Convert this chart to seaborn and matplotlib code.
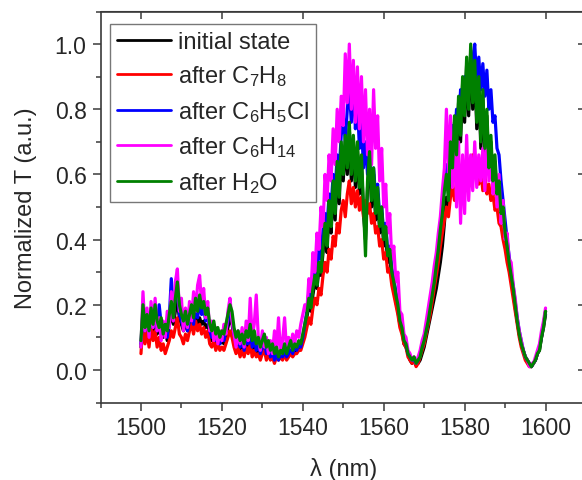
import numpy as np
import pandas as pd
import matplotlib
matplotlib.use("Agg")
import matplotlib.pyplot as plt
import seaborn as sns
from matplotlib.ticker import MultipleLocator

# ---------------- data ----------------
# sampling grid of the spectra: 1500 ... 1600 nm every 0.5 nm (201 samples)
wavelength_nm = np.arange(1500.0, 1600.25, 0.5)

t_initial = [
    0.07, 0.16, 0.11, 0.14, 0.10, 0.16, 0.12, 0.15, 0.11, 0.13,
    0.12, 0.10, 0.12, 0.09, 0.14, 0.17, 0.14, 0.18, 0.21, 0.16,
    0.14, 0.12, 0.15, 0.12, 0.14, 0.16, 0.13, 0.17, 0.14, 0.16,
    0.14, 0.15, 0.13, 0.14, 0.11, 0.09, 0.12, 0.08, 0.10, 0.08,
    0.09, 0.08, 0.11, 0.13, 0.16, 0.14, 0.10, 0.07, 0.09, 0.06,
    0.08, 0.06, 0.09, 0.07, 0.10, 0.06, 0.08, 0.05, 0.07, 0.05,
    0.06, 0.08, 0.05, 0.06, 0.04, 0.05, 0.03, 0.05, 0.04, 0.05,
    0.04, 0.06, 0.04, 0.05, 0.06, 0.05, 0.06, 0.06, 0.07, 0.07,
    0.09,
    0.13, 0.16, 0.20, 0.18, 0.23, 0.27, 0.25, 0.31, 0.29, 0.36,
    0.43, 0.36, 0.50, 0.42, 0.56, 0.46, 0.62, 0.51, 0.68, 0.58,
    0.70, 0.60, 0.74, 0.58, 0.70, 0.56, 0.68, 0.54, 0.64, 0.48,
    0.40, 0.56, 0.65, 0.50, 0.60, 0.46, 0.54, 0.42, 0.48, 0.38,
    0.41, 0.33, 0.35, 0.28, 0.25, 0.21, 0.18, 0.14, 0.12, 0.08,
    0.07, 0.05, 0.03, 0.02, 0.03, 0.02, 0.02, 0.03, 0.05, 0.07,
    0.10, 0.13, 0.16, 0.19, 0.22, 0.25, 0.29, 0.33, 0.38, 0.45,
    0.53, 0.50, 0.64, 0.60, 0.76, 0.64, 0.82, 0.70, 0.88, 0.76,
    0.94, 0.78, 0.98, 0.80, 0.93, 0.74, 0.88, 0.68, 0.84, 0.66,
    0.78, 0.60, 0.70, 0.56, 0.64, 0.52, 0.56, 0.46, 0.48, 0.40,
    0.37, 0.32, 0.28, 0.24, 0.19, 0.15, 0.11, 0.08, 0.06, 0.04,
    0.03, 0.02, 0.01, 0.02, 0.03, 0.05, 0.06, 0.10, 0.13, 0.17,
]

t_c7h8 = [
    0.05, 0.14, 0.08, 0.12, 0.07, 0.13, 0.09, 0.12, 0.07, 0.10,
    0.06, 0.08, 0.05, 0.07, 0.09, 0.12, 0.10, 0.13, 0.16, 0.11,
    0.10, 0.08, 0.11, 0.09, 0.12, 0.14, 0.11, 0.15, 0.12, 0.14,
    0.11, 0.13, 0.10, 0.12, 0.08, 0.07, 0.09, 0.06, 0.08, 0.06,
    0.07, 0.06, 0.08, 0.10, 0.12, 0.10, 0.07, 0.05, 0.07, 0.04,
    0.06, 0.04, 0.07, 0.05, 0.08, 0.04, 0.06, 0.04, 0.05, 0.03,
    0.05, 0.06, 0.03, 0.05, 0.03, 0.04, 0.02, 0.04, 0.03, 0.04,
    0.03, 0.05, 0.03, 0.04, 0.05, 0.04, 0.05, 0.05, 0.06, 0.06,
    0.08,
    0.10, 0.13, 0.16, 0.14, 0.19, 0.22, 0.20, 0.25, 0.23, 0.29,
    0.33, 0.30, 0.37, 0.34, 0.41, 0.38, 0.45, 0.42, 0.49, 0.52,
    0.47, 0.54, 0.58, 0.51, 0.56, 0.50, 0.55, 0.49, 0.53, 0.47,
    0.52, 0.48, 0.51, 0.45, 0.48, 0.42, 0.44, 0.38, 0.40, 0.34,
    0.36, 0.30, 0.31, 0.26, 0.23, 0.20, 0.17, 0.13, 0.11, 0.08,
    0.07, 0.04, 0.03, 0.02, 0.03, 0.01, 0.02, 0.04, 0.06, 0.08,
    0.11, 0.14, 0.17, 0.21, 0.25, 0.29, 0.33, 0.38, 0.42, 0.46,
    0.50, 0.47, 0.53, 0.56, 0.52, 0.58, 0.55, 0.61, 0.57, 0.63,
    0.59, 0.64, 0.60, 0.66, 0.61, 0.63, 0.57, 0.61, 0.55, 0.60,
    0.54, 0.57, 0.52, 0.54, 0.49, 0.50, 0.45, 0.44, 0.40, 0.37,
    0.33, 0.30, 0.26, 0.22, 0.18, 0.14, 0.10, 0.07, 0.05, 0.03,
    0.02, 0.01, 0.01, 0.02, 0.03, 0.05, 0.07, 0.10, 0.14, 0.18,
]

t_c6h5cl = [
    0.08, 0.18, 0.12, 0.16, 0.11, 0.18, 0.13, 0.17, 0.12, 0.20,
    0.14, 0.11, 0.13, 0.10, 0.16, 0.28, 0.18, 0.22, 0.25, 0.17,
    0.15, 0.13, 0.16, 0.12, 0.15, 0.18, 0.14, 0.20, 0.16, 0.21,
    0.17, 0.19, 0.15, 0.17, 0.12, 0.10, 0.13, 0.09, 0.11, 0.08,
    0.10, 0.09, 0.12, 0.15, 0.18, 0.16, 0.11, 0.08, 0.10, 0.07,
    0.09, 0.06, 0.10, 0.08, 0.12, 0.07, 0.10, 0.06, 0.08, 0.05,
    0.07, 0.09, 0.05, 0.07, 0.04, 0.06, 0.03, 0.05, 0.03, 0.05,
    0.04, 0.06, 0.04, 0.05, 0.07, 0.05, 0.07, 0.06, 0.08, 0.07,
    0.10,
    0.14, 0.18, 0.24, 0.21, 0.28, 0.32, 0.29, 0.37, 0.34, 0.43,
    0.48, 0.44, 0.54, 0.50, 0.60, 0.55, 0.66, 0.61, 0.72, 0.78,
    0.70, 0.80, 0.86, 0.76, 0.90, 0.74, 0.82, 0.68, 0.76, 0.62,
    0.70, 0.60, 0.64, 0.56, 0.62, 0.53, 0.57, 0.47, 0.50, 0.42,
    0.45, 0.36, 0.38, 0.31, 0.28, 0.24, 0.21, 0.16, 0.14, 0.10,
    0.08, 0.05, 0.04, 0.03, 0.03, 0.02, 0.03, 0.05, 0.07, 0.10,
    0.12, 0.16, 0.20, 0.24, 0.28, 0.33, 0.38, 0.44, 0.50, 0.56,
    0.63, 0.60, 0.70, 0.75, 0.70, 0.80, 0.74, 0.86, 0.80, 0.90,
    0.84, 0.93, 0.88, 0.95, 1.00, 0.88, 0.96, 0.86, 0.94, 0.84,
    0.92, 0.80, 0.86, 0.76, 0.78, 0.68, 0.66, 0.58, 0.52, 0.46,
    0.40, 0.35, 0.30, 0.26, 0.21, 0.16, 0.12, 0.09, 0.06, 0.04,
    0.03, 0.02, 0.01, 0.02, 0.03, 0.05, 0.07, 0.10, 0.14, 0.18,
]

t_c6h14 = [
    0.07, 0.24, 0.12, 0.19, 0.10, 0.21, 0.13, 0.22, 0.12, 0.16,
    0.09, 0.15, 0.10, 0.18, 0.13, 0.24, 0.15, 0.27, 0.31, 0.18,
    0.22, 0.12, 0.19, 0.13, 0.21, 0.15, 0.24, 0.18, 0.26, 0.29,
    0.20, 0.25, 0.16, 0.21, 0.12, 0.15, 0.09, 0.13, 0.08, 0.12,
    0.09, 0.14, 0.11, 0.18, 0.22, 0.15, 0.11, 0.07, 0.12, 0.08,
    0.13, 0.07, 0.15, 0.09, 0.22, 0.10, 0.14, 0.23, 0.10, 0.06,
    0.12, 0.07, 0.10, 0.05, 0.09, 0.05, 0.12, 0.06, 0.16, 0.05,
    0.09, 0.16, 0.06, 0.10, 0.07, 0.11, 0.08, 0.12, 0.10, 0.14,
    0.17,
    0.20, 0.18, 0.28, 0.24, 0.36, 0.30, 0.42, 0.37, 0.50, 0.44,
    0.60, 0.52, 0.66, 0.58, 0.74, 0.63, 0.80, 0.70, 0.84, 0.75,
    0.97, 0.82, 1.00, 0.80, 0.95, 0.76, 0.93, 0.74, 0.90, 0.70,
    0.86, 0.66, 0.80, 0.63, 0.86, 0.68, 0.78, 0.58, 0.68, 0.50,
    0.57, 0.42, 0.48, 0.34, 0.38, 0.27, 0.30, 0.18, 0.17, 0.11,
    0.10, 0.06, 0.05, 0.03, 0.04, 0.02, 0.04, 0.06, 0.09, 0.11,
    0.15, 0.19, 0.23, 0.27, 0.32, 0.36, 0.42, 0.47, 0.55, 0.62,
    0.80, 0.60, 0.78, 0.56, 0.74, 0.50, 0.70, 0.45, 0.66, 0.48,
    0.72, 0.52, 0.66, 0.55, 0.70, 0.56, 0.66, 0.58, 0.68, 0.55,
    0.72, 0.58, 0.68, 0.54, 0.62, 0.50, 0.60, 0.45, 0.52, 0.40,
    0.42, 0.34, 0.33, 0.26, 0.22, 0.16, 0.12, 0.09, 0.06, 0.04,
    0.03, 0.01, 0.02, 0.02, 0.04, 0.06, 0.08, 0.12, 0.15, 0.19,
]

t_h2o = [
    0.09, 0.20, 0.13, 0.17, 0.12, 0.19, 0.14, 0.20, 0.15, 0.13,
    0.16, 0.11, 0.14, 0.12, 0.17, 0.21, 0.16, 0.22, 0.27, 0.20,
    0.17, 0.15, 0.18, 0.14, 0.17, 0.20, 0.16, 0.22, 0.18, 0.23,
    0.19, 0.21, 0.17, 0.19, 0.14, 0.12, 0.15, 0.11, 0.13, 0.10,
    0.12, 0.11, 0.14, 0.17, 0.20, 0.18, 0.13, 0.10, 0.12, 0.09,
    0.11, 0.08, 0.12, 0.10, 0.14, 0.09, 0.12, 0.08, 0.10, 0.07,
    0.09, 0.11, 0.07, 0.09, 0.06, 0.08, 0.05, 0.07, 0.04, 0.06,
    0.05, 0.08, 0.05, 0.07, 0.09, 0.06, 0.08, 0.07, 0.09, 0.08,
    0.11,
    0.14, 0.17, 0.22, 0.19, 0.25, 0.29, 0.26, 0.33, 0.30, 0.38,
    0.45, 0.38, 0.52, 0.44, 0.58, 0.48, 0.64, 0.53, 0.70, 0.60,
    0.72, 0.62, 0.76, 0.60, 0.72, 0.58, 0.70, 0.56, 0.66, 0.50,
    0.35, 0.58, 0.67, 0.52, 0.62, 0.48, 0.56, 0.44, 0.50, 0.40,
    0.44, 0.35, 0.37, 0.30, 0.27, 0.23, 0.20, 0.15, 0.13, 0.09,
    0.08, 0.05, 0.04, 0.03, 0.04, 0.02, 0.03, 0.04, 0.07, 0.09,
    0.12, 0.15, 0.19, 0.23, 0.27, 0.32, 0.37, 0.43, 0.48, 0.55,
    0.60, 0.52, 0.70, 0.62, 0.78, 0.66, 0.84, 0.72, 0.90, 0.78,
    0.96, 0.80, 1.00, 0.82, 0.95, 0.76, 0.90, 0.70, 0.86, 0.68,
    0.80, 0.62, 0.72, 0.58, 0.66, 0.54, 0.58, 0.48, 0.50, 0.42,
    0.38, 0.33, 0.29, 0.25, 0.20, 0.15, 0.11, 0.08, 0.06, 0.04,
    0.03, 0.02, 0.01, 0.02, 0.03, 0.05, 0.06, 0.10, 0.13, 0.18,
]

series_labels = [
    "initial state",
    "after C$_7$H$_8$",
    "after C$_6$H$_5$Cl",
    "after C$_6$H$_{14}$",
    "after H$_2$O",
]
series_values = [t_initial, t_c7h8, t_c6h5cl, t_c6h14, t_h2o]
series_colors = ["#000000", "#ff0000", "#0000ff", "#ff00ff", "#008000"]

x_ticks = [1500, 1520, 1540, 1560, 1580, 1600]
y_ticks = [0.0, 0.2, 0.4, 0.6, 0.8, 1.0]

# ---------------- styling ----------------
sns.set_style("ticks")
plt.rcParams["font.family"] = ["Liberation Sans", "DejaVu Sans"]
plt.rcParams["mathtext.fontset"] = "custom"
plt.rcParams["mathtext.rm"] = "Liberation Sans"
plt.rcParams["mathtext.it"] = "Liberation Sans:italic"
plt.rcParams["mathtext.default"] = "regular"

spine_col = "#3a3a3a"

df = pd.DataFrame({
    "wavelength": np.concatenate([wavelength_nm] * len(series_values)),
    "T": np.concatenate([np.asarray(v, dtype=float) for v in series_values]),
    "series": np.repeat(series_labels, len(wavelength_nm)),
})

fig = plt.figure(figsize=(5.82, 4.81), dpi=100)
ax = fig.add_axes([100.5 / 582, (481 - 403.5) / 481, 485.5 / 582, 391 / 481])

sns.lineplot(
    data=df, x="wavelength", y="T", hue="series", hue_order=series_labels,
    palette=series_colors, estimator=None, sort=False, linewidth=2.3, ax=ax,
)

ax.set_xlim(1490, 1610)
ax.set_ylim(-0.1, 1.1)
ax.set_xticks(x_ticks)
ax.set_yticks(y_ticks)
ax.set_yticklabels([f"{v:.1f}" for v in y_ticks])
ax.xaxis.set_minor_locator(MultipleLocator(10))
ax.yaxis.set_minor_locator(MultipleLocator(0.1))
ax.tick_params(which="major", direction="out", length=6, width=1.1,
               color=spine_col, labelsize=16.5, pad=4)
ax.tick_params(which="minor", direction="out", length=3.5, width=1.1,
               color=spine_col)
for s in ax.spines.values():
    s.set_color(spine_col)
    s.set_linewidth(1.2)

# mirrored inward ticks on top and right (major only)
top = ax.secondary_xaxis("top")
top.set_xticks(x_ticks)
top.tick_params(direction="in", length=6, width=1.1, color=spine_col,
                labeltop=False)
top.spines["top"].set_color(spine_col)
right = ax.secondary_yaxis("right")
right.set_yticks(y_ticks)
right.tick_params(direction="in", length=6, width=1.1, color=spine_col,
                  labelright=False)
right.spines["right"].set_color(spine_col)

ax.set_xlabel("λ (nm)", fontsize=17, labelpad=13)
ax.set_ylabel("Normalized T (a.u.)", fontsize=17, labelpad=13)

handles, labels = ax.get_legend_handles_labels()
leg = ax.legend(
    handles, labels, loc="upper left", bbox_to_anchor=(0.0196, 0.9685),
    borderaxespad=0, frameon=True, fancybox=False, framealpha=1,
    edgecolor="#777777", fontsize=17, handlelength=2.3, handletextpad=0.3,
    borderpad=0.3, labelspacing=0.45,
)
leg.get_frame().set_linewidth(1.0)
for h in leg.get_lines():
    h.set_linewidth(2.0)

fig.savefig("out.png", dpi=100)
